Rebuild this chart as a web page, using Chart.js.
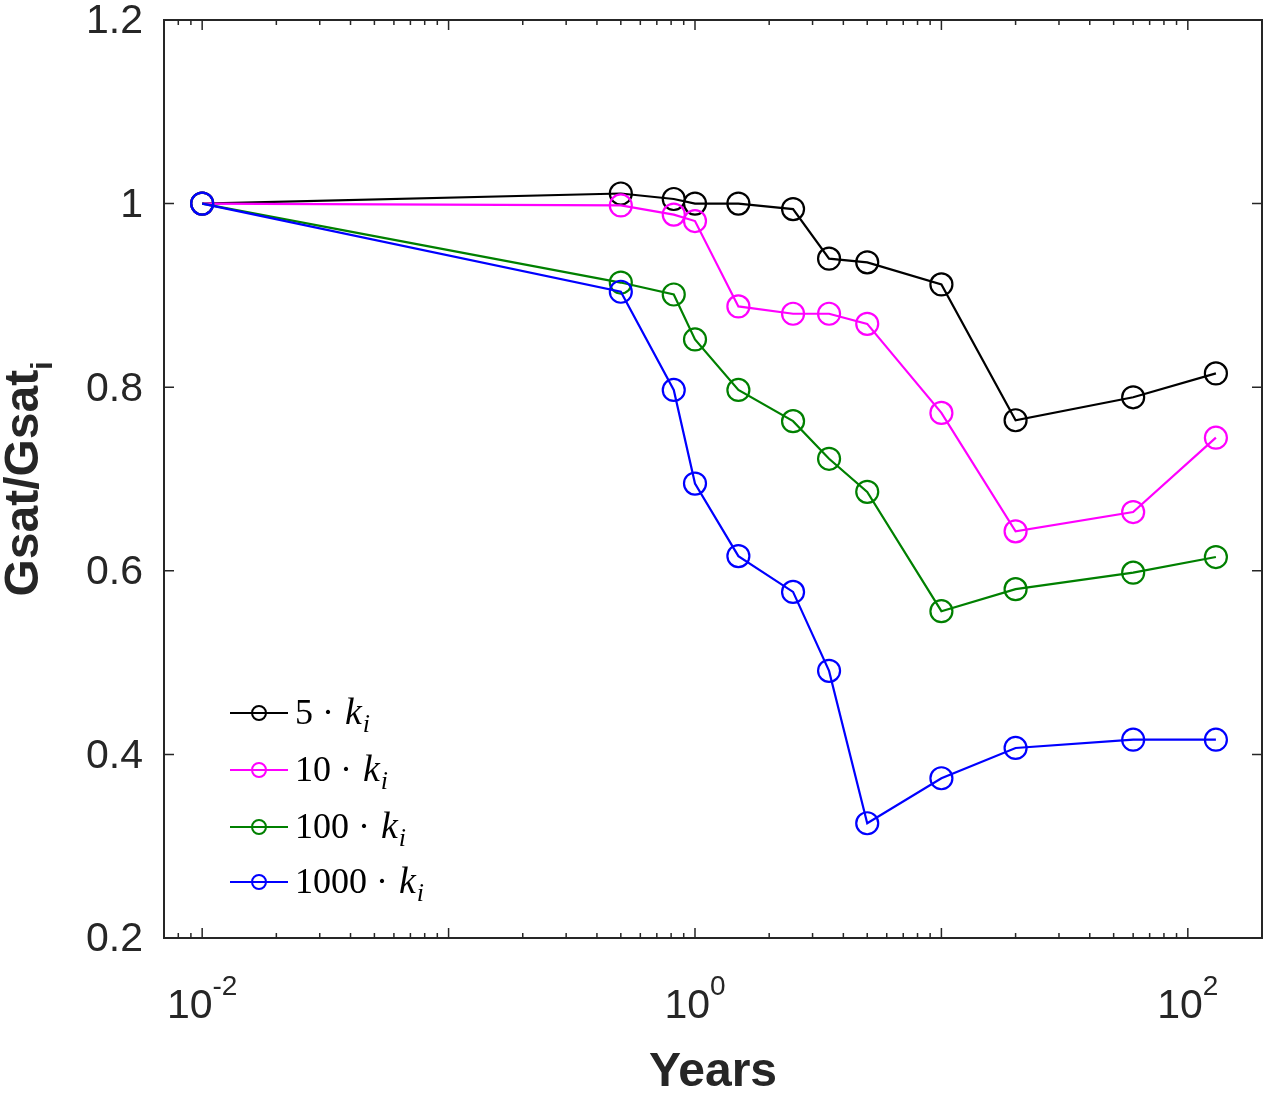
<!DOCTYPE html>
<html>
<head>
<meta charset="utf-8">
<script src="https://cdn.jsdelivr.net/npm/chart.js@4.4.1/dist/chart.umd.min.js"></script>
<style>
  html, body { margin:0; padding:0; background:#fff; }
  #wrap { width:1270px; height:1094px; }
</style>
</head>
<body>
<div id="wrap"><canvas id="gsatChart" width="1270" height="1094"></canvas></div>
<script>
// time points (years) and Gsat/Gsat_i for each rate multiplier
const years = [0.01, 0.5, 0.82, 1, 1.5, 2.5, 3.5, 5, 10, 20, 60, 130];
const k5    = [1.0, 1.011, 1.005, 1.0, 1.0, 0.994, 0.940, 0.936, 0.912, 0.764, 0.789, 0.815];
const k10   = [1.0, 0.998, 0.988, 0.981, 0.888, 0.880, 0.880, 0.869, 0.772, 0.643, 0.664, 0.745];
const k100  = [1.0, 0.914, 0.901, 0.852, 0.797, 0.763, 0.722, 0.686, 0.556, 0.580, 0.598, 0.615];
const k1000 = [1.0, 0.904, 0.797, 0.695, 0.616, 0.577, 0.491, 0.325, 0.374, 0.407, 0.416, 0.416];

const seriesLabels = ['5', '10', '100', '1000'];
const seriesColors = ['#000000', '#ff00ff', '#008000', '#0000ff'];

const xTicks = [0.01, 1, 100];
const xTickExp = ['-2', '0', '2'];
const yTicks = [0.2, 0.4, 0.6, 0.8, 1, 1.2];
const yTickLabels = ['0.2', '0.4', '0.6', '0.8', '1', '1.2'];

const axisColor = '#262626';
const tickFont = '"Liberation Sans", Arial, sans-serif';

function toPoints(vals) {
  return years.map((x, i) => ({ x: x, y: vals[i] }));
}

const datasets = [k5, k10, k100, k1000].map((vals, i) => ({
  label: seriesLabels[i],
  data: toPoints(vals),
  showLine: true,
  tension: 0,
  borderColor: seriesColors[i],
  borderWidth: 2.2,
  backgroundColor: 'rgba(0,0,0,0)',
  pointBorderColor: seriesColors[i],
  pointBackgroundColor: 'rgba(0,0,0,0)',
  pointRadius: 11,
  pointBorderWidth: 2.2,
  pointHoverRadius: 11,
  order: 4 - i
}));

// box, inward ticks, tick labels, axis titles, legend
const decorations = {
  id: 'decorations',
  afterDraw(chart) {
    const ctx = chart.ctx;
    const a = chart.chartArea;
    const xs = chart.scales.x, ys = chart.scales.y;
    ctx.save();
    ctx.strokeStyle = axisColor;
    ctx.lineWidth = 2;
    ctx.strokeRect(a.left, a.top, a.right - a.left, a.bottom - a.top);

    // x ticks (major + minor), top and bottom; y ticks left and right
    ctx.lineWidth = 1.5;
    ctx.beginPath();
    for (let e = Math.floor(Math.log10(xs.min)); e <= Math.ceil(Math.log10(xs.max)); e++) {
      for (let m = 1; m <= 9; m++) {
        const v = m * Math.pow(10, e);
        if (v < xs.min || v > xs.max) continue;
        const px = xs.getPixelForValue(v);
        const len = m === 1 ? 10 : 5;
        ctx.moveTo(px, a.bottom); ctx.lineTo(px, a.bottom - len);
        ctx.moveTo(px, a.top); ctx.lineTo(px, a.top + len);
      }
    }
    yTicks.forEach(v => {
      const py = ys.getPixelForValue(v);
      ctx.moveTo(a.left, py); ctx.lineTo(a.left + 10, py);
      ctx.moveTo(a.right, py); ctx.lineTo(a.right - 10, py);
    });
    ctx.stroke();

    // y tick labels
    ctx.fillStyle = axisColor;
    ctx.font = '41px ' + tickFont;
    ctx.textAlign = 'right';
    ctx.textBaseline = 'middle';
    yTicks.forEach((v, i) => {
      ctx.fillText(yTickLabels[i], a.left - 21, ys.getPixelForValue(v) + 2);
    });

    // x tick labels 10^n
    ctx.textBaseline = 'alphabetic';
    xTicks.forEach((v, i) => {
      const px = xs.getPixelForValue(v);
      ctx.font = '41px ' + tickFont;
      const wBase = ctx.measureText('10').width;
      ctx.font = '28px ' + tickFont;
      const wExp = ctx.measureText(xTickExp[i]).width;
      const x0 = px - (wBase + wExp) / 2;
      ctx.font = '41px ' + tickFont;
      ctx.textAlign = 'left';
      ctx.fillText('10', x0, 1018);
      ctx.font = '28px ' + tickFont;
      ctx.fillText(xTickExp[i], x0 + wBase, 995);
    });

    // x title
    ctx.font = 'bold 48px ' + tickFont;
    ctx.textAlign = 'center';
    ctx.fillText('Years', (a.left + a.right) / 2, 1086);

    // y title, rotated, with subscript i
    ctx.save();
    ctx.translate(38, (a.top + a.bottom) / 2);
    ctx.rotate(-Math.PI / 2);
    ctx.font = 'bold 48px ' + tickFont;
    const wMain = ctx.measureText('Gsat/Gsat').width;
    ctx.font = 'bold 30px ' + tickFont;
    const wSub = ctx.measureText('i').width;
    const start = -(wMain + wSub) / 2;
    ctx.textAlign = 'left';
    ctx.font = 'bold 48px ' + tickFont;
    ctx.fillText('Gsat/Gsat', start, 0);
    ctx.font = 'bold 30px ' + tickFont;
    ctx.fillText('i', start + wMain, 14);
    ctx.restore();

    // legend
    const rowY = [713, 770, 827, 882];
    seriesLabels.forEach((lab, i) => {
      const y = rowY[i];
      ctx.strokeStyle = seriesColors[i];
      ctx.lineWidth = 2;
      ctx.beginPath();
      ctx.moveTo(230, y); ctx.lineTo(288, y);
      ctx.stroke();
      ctx.beginPath();
      ctx.arc(259, y, 7, 0, Math.PI * 2);
      ctx.stroke();
      ctx.fillStyle = '#000';
      ctx.textAlign = 'left';
      let x = 295;
      ctx.font = '36px "Liberation Serif", "Times New Roman", serif';
      const head = lab + ' \u00B7 ';
      ctx.fillText(head, x, y + 11);
      x += ctx.measureText(head).width + 2;
      ctx.font = 'italic 38px "Liberation Serif", "Times New Roman", serif';
      ctx.fillText('k', x, y + 11);
      x += ctx.measureText('k').width + 1;
      ctx.font = 'italic 26px "Liberation Serif", "Times New Roman", serif';
      ctx.fillText('i', x, y + 19);
    });
    ctx.restore();
  }
};

new Chart(document.getElementById('gsatChart'), {
  type: 'scatter',
  data: { datasets },
  options: {
    responsive: false,
    animation: false,
    devicePixelRatio: 1,
    layout: { autoPadding: false, padding: { left: 0, top: 20, right: 8, bottom: 0 } },
    plugins: { legend: { display: false }, tooltip: { enabled: false } },
    scales: {
      x: {
        type: 'logarithmic',
        min: 0.007,
        max: 200,
        grid: { display: false },
        border: { display: false },
        ticks: { display: false },
        afterFit: s => { s.height = 156; }
      },
      y: {
        type: 'linear',
        min: 0.2,
        max: 1.2,
        grid: { display: false },
        border: { display: false },
        ticks: { display: false },
        afterFit: s => { s.width = 164; }
      }
    }
  },
  plugins: [decorations]
});
</script>
</body>
</html>
